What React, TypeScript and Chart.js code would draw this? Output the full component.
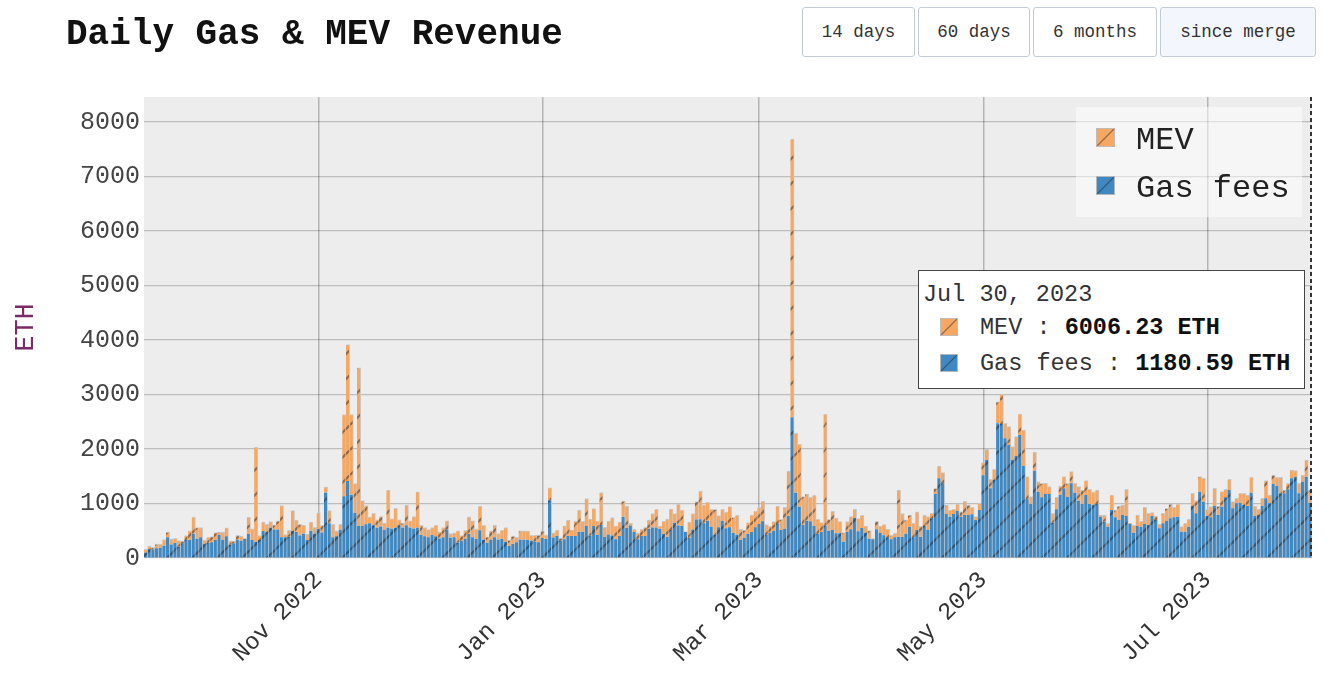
import React, { useEffect, useRef } from 'react';
import { Chart, registerables } from 'chart.js';

Chart.register(...registerables);

// ---------------- data ----------------
const START_DATE = '2022-09-15';

const GAS_FEES = [
  100, 165, 160, 180, 190, 230, 380, 250, 280, 210,
  270, 330, 335, 450, 355, 380, 255, 280, 290, 340,
  420, 330, 400, 245, 270, 340, 315, 350, 440, 330,
  300, 330, 495, 475, 560, 525, 525, 380, 380, 390,
  500, 475, 415, 450, 330, 500, 450, 535, 470, 1200,
  640, 380, 400, 520, 1135, 1415, 1160, 830, 585, 590,
  620, 640, 600, 560, 580, 520, 560, 540, 560, 600,
  560, 600, 560, 540, 560, 420, 400, 380, 420, 400,
  360, 380, 525, 370, 380, 280, 320, 355, 440, 380,
  355, 510, 340, 280, 340, 380, 340, 355, 300, 220,
  260, 290, 340, 340, 330, 320, 300, 290, 366, 354,
  1061, 378, 403, 311, 342, 403, 403, 403, 482, 482,
  586, 415, 586, 421, 604, 384, 433, 415, 342, 403,
  756, 549, 598, 476, 342, 403, 403, 537, 561, 561,
  537, 439, 390, 512, 647, 598, 586, 476, 366, 525,
  708, 710, 636, 685, 575, 422, 563, 685, 544, 563,
  459, 428, 330, 367, 440, 477, 563, 624, 673, 422,
  465, 502, 636, 514, 538, 771, 2581, 1199, 942, 612,
  685, 673, 587, 440, 477, 599, 502, 514, 453, 453,
  300, 477, 526, 734, 490, 550, 465, 355, 343, 526,
  465, 416, 379, 343, 379, 390, 390, 450, 573, 380,
  512, 390, 585, 520, 728, 1174, 1462, 1370, 807, 758,
  807, 868, 758, 789, 789, 801, 697, 880, 1517, 1798,
  1278, 1431, 2471, 2459, 2196, 2073, 1798, 1872, 2257, 1688,
  1076, 991, 1602, 1217, 1113, 1174, 1174, 648, 893, 1156,
  1278, 1125, 1370, 1199, 1052, 991, 1156, 991, 979, 991,
  758, 667, 575, 880, 746, 697, 789, 770, 624, 465,
  587, 575, 624, 606, 770, 697, 544, 636, 685, 728,
  746, 758, 483, 483, 575, 954, 820, 1217, 1034, 770,
  746, 954, 789, 942, 1113, 1248, 911, 1003, 1015, 972,
  954, 1199, 770, 789, 954, 1095, 1003, 1358, 1321, 1187,
  1187, 1260, 1462, 1492, 1187, 1401, 1492, 1015,
];

const MEV = [
  60, 55, 35, 75, 65, 110, 95, 100, 80, 110,
  40, 80, 165, 300, 205, 180, 75, 100, 105, 125,
  55, 145, 155, 70, 40, 75, 85, 5, 305, 205,
  1735, 80, 165, 145, 110, 85, 155, 580, 50, 120,
  370, 220, 205, 150, 110, 160, 115, 295, 130, 100,
  230, 240, 100, 100, 1495, 2500, 1470, 535, 2905, 465,
  340, 110, 220, 140, 180, 120, 685, 180, 350, 100,
  80, 370, 120, 220, 655, 180, 160, 140, 140, 200,
  120, 180, 155, 80, 80, 220, 90, 155, 315, 300,
  175, 440, 260, 110, 160, 225, 110, 155, 260, 110,
  140, 90, 160, 160, 165, 95, 115, 130, 134, 67,
  226, 86, 109, 55, 250, 292, 109, 274, 396, 189,
  506, 299, 323, 256, 598, 177, 244, 329, 244, 256,
  287, 403, 36, 49, 122, 122, 158, 158, 256, 330,
  49, 232, 324, 385, 170, 390, 292, 6, 293, 292,
  327, 520, 336, 336, 318, 471, 214, 208, 300, 379,
  287, 355, 196, 147, 208, 312, 299, 306, 367, 190,
  122, 165, 318, 195, 392, 825, 5107, 1088, 1144, 513,
  489, 440, 563, 269, 171, 2037, 207, 342, 281, 214,
  165, 190, 232, 159, 232, 233, 122, 147, 12, 147,
  122, 196, 147, 73, 74, 855, 427, 250, 214, 254,
  336, 190, 202, 240, 92, 104, 226, 196, 165, 122,
  86, 122, 92, 251, 183, 129, 61, 123, 232, 196,
  165, 196, 397, 550, 275, 337, 245, 354, 385, 661,
  416, 134, 343, 184, 257, 196, 135, 172, 220, 165,
  214, 245, 214, 171, 257, 257, 263, 269, 232, 257,
  31, 122, 61, 276, 134, 257, 183, 490, 12, 135,
  202, 98, 306, 214, 62, 73, 80, 184, 226, 262,
  184, 232, 92, 153, 134, 233, 232, 275, 428, 123,
  196, 324, 165, 275, 147, 195, 123, 92, 172, 215,
  202, 281, 184, 104, 141, 324, 153, 165, 159, 293,
  61, 110, 153, 110, 183, 122, 306, 233,
];

const X_TICK_DATES = ['2022-11-01', '2023-01-01', '2023-03-01', '2023-05-01', '2023-07-01'];
const X_TICK_LABELS = ['Nov 2022', 'Jan 2023', 'Mar 2023', 'May 2023', 'Jul 2023'];
const Y_TICKS = [0, 1000, 2000, 3000, 4000, 5000, 6000, 7000, 8000];
const Y_MAX = 8460;
const SERIES_NAMES = ['MEV', 'Gas fees'];
const RANGE_BUTTONS = ['14 days', '60 days', '6 months', 'since merge'];
const HOVER_DATE = 'Jul 30, 2023';
const HOVER_VALUES = ['6006.23', '1180.59'];
const UNIT = 'ETH';
const TITLE = 'Daily Gas & MEV Revenue';

// ---------------- styles ----------------
const FONT = "'Liberation Mono', 'Courier New', monospace";
const BLUE = '#4088c1';
const ORANGE = '#f6a762';
const HATCH = 'rgba(30,30,30,0.45)';
const BAR_BORDER = 'rgba(200,200,200,0.95)';
const COLORS = [ORANGE, BLUE];

function makeDates(start: string, n: number): string[] {
  const out: string[] = [];
  const d = new Date(start + 'T00:00:00Z');
  for (let i = 0; i < n; i++) {
    out.push(d.toISOString().slice(0, 10));
    d.setUTCDate(d.getUTCDate() + 1);
  }
  return out;
}

function hatchPattern(ctx: CanvasRenderingContext2D, color: string, size = 25) {
  const tile = document.createElement('canvas');
  tile.width = size;
  tile.height = size;
  const g = tile.getContext('2d')!;
  g.fillStyle = color;
  g.fillRect(0, 0, size, size);
  g.strokeStyle = HATCH;
  g.lineWidth = 2.2;
  g.beginPath();
  for (const k of [-1, 0, 1]) {
    g.moveTo(k * size, size);
    g.lineTo(k * size + size, 0);
  }
  g.stroke();
  return ctx.createPattern(tile, 'repeat')!;
}

const bgPlugin = {
  id: 'plotBg',
  beforeDraw(chart: any) {
    const { ctx, chartArea } = chart;
    ctx.save();
    ctx.fillStyle = '#ededed';
    ctx.fillRect(chartArea.left, chartArea.top, chartArea.right - chartArea.left, chartArea.bottom - chartArea.top);
    ctx.restore();
  },
};

const spikePlugin = {
  id: 'spike',
  afterDraw(chart: any) {
    const { ctx, chartArea } = chart;
    ctx.save();
    ctx.strokeStyle = '#333';
    ctx.lineWidth = 2;
    ctx.setLineDash([4, 3]);
    ctx.beginPath();
    ctx.moveTo(chartArea.right - 1, chartArea.top);
    ctx.lineTo(chartArea.right - 1, chartArea.bottom);
    ctx.stroke();
    ctx.restore();
  },
};

function swatchStyle(color: string, size: number): React.CSSProperties {
  return {
    position: 'absolute',
    width: size,
    height: size,
    boxSizing: 'border-box',
    border: '1px solid rgba(190,190,190,0.9)',
    background: `linear-gradient(to bottom right, transparent calc(50% - 1.2px), ${HATCH} 50%, transparent calc(50% + 1.2px)), ${color}`,
  };
}

export default function App() {
  const ref = useRef<HTMLCanvasElement>(null);

  useEffect(() => {
    const canvas = ref.current!;
    const ctx = canvas.getContext('2d')!;
    const labels = makeDates(START_DATE, GAS_FEES.length);

    const chart = new Chart(ctx, {
      type: 'bar',
      data: {
        labels,
        datasets: [
          {
            label: SERIES_NAMES[1],
            data: GAS_FEES,
            backgroundColor: hatchPattern(ctx, BLUE),
            borderColor: BAR_BORDER,
            borderWidth: { top: 0, right: 1, bottom: 0, left: 0 },
            borderSkipped: false,
            barPercentage: 1,
            categoryPercentage: 1,
          },
          {
            label: SERIES_NAMES[0],
            data: MEV,
            backgroundColor: hatchPattern(ctx, ORANGE),
            borderColor: BAR_BORDER,
            borderWidth: { top: 1, right: 1, bottom: 0, left: 0 },
            borderSkipped: false,
            barPercentage: 1,
            categoryPercentage: 1,
          },
        ],
      } as any,
      options: {
        responsive: false,
        animation: false,
        devicePixelRatio: 1,
        layout: { padding: { left: 0, top: 97, right: 29, bottom: 0 } },
        plugins: { legend: { display: false }, tooltip: { enabled: false } },
        scales: {
          x: {
            stacked: true,
            offset: true,
            border: { display: false },
            grid: { offset: false, color: 'rgba(0,0,0,0.24)', lineWidth: 1.5, drawTicks: false },
            afterBuildTicks: (s: any) => {
              s.ticks = s.ticks.filter((t: any) => X_TICK_DATES.includes(labels[t.value]));
            },
            afterFit: (s: any) => {
              s.height = 134;
            },
            ticks: {
              autoSkip: false,
              minRotation: 45,
              maxRotation: 45,
              padding: 8,
              color: '#333',
              font: { family: FONT, size: 24 },
              callback: (v: any) => X_TICK_LABELS[X_TICK_DATES.indexOf(labels[v as number])] ?? '',
            },
          },
          y: {
            stacked: true,
            min: 0,
            max: Y_MAX,
            border: { display: false },
            grid: { color: 'rgba(0,0,0,0.2)', lineWidth: 1.2, drawTicks: false },
            afterBuildTicks: (s: any) => {
              s.ticks = Y_TICKS.map((v) => ({ value: v }));
            },
            afterFit: (s: any) => {
              s.width = 144;
            },
            ticks: {
              padding: 4,
              color: '#444',
              font: { family: FONT, size: 25 },
              callback: (v: any) => String(v),
            },
            title: {
              display: true,
              text: UNIT,
              color: '#7a2a66',
              font: { family: FONT, size: 27 },
              padding: { top: 10, bottom: 0 },
            },
          },
        },
      } as any,
      plugins: [bgPlugin, spikePlugin],
    });
    return () => chart.destroy();
  }, []);

  const btnLefts = [802, 918, 1033, 1160];
  const btnWidths = [113, 112, 124, 156];

  return (
    <div style={{ position: 'fixed', left: 0, top: 0, width: 1341, height: 692, background: '#fff', fontFamily: FONT, overflow: 'hidden' }}>
      <canvas ref={ref} width={1341} height={692} style={{ position: 'absolute', left: 0, top: 0, width: 1341, height: 692 }} />
      <div style={{ position: 'absolute', left: 66, top: 17, fontSize: 36, lineHeight: '36px', fontWeight: 'bold', color: '#111', whiteSpace: 'pre' }}>
        {TITLE}
      </div>
      {RANGE_BUTTONS.map((b, i) => (
        <div
          key={b}
          style={{
            position: 'absolute',
            left: btnLefts[i],
            top: 7,
            width: btnWidths[i],
            height: 50,
            boxSizing: 'border-box',
            border: '1px solid #c3cbd8',
            borderRadius: 3,
            background: i === 3 ? '#f3f7fd' : '#fff',
            display: 'flex',
            alignItems: 'center',
            justifyContent: 'center',
            fontSize: 17.5,
            color: '#333',
            whiteSpace: 'pre',
          }}
        >
          {b}
        </div>
      ))}
      {/* legend */}
      <div style={{ position: 'absolute', left: 1076, top: 107, width: 226, height: 110, background: 'rgba(255,255,255,0.5)' }}>
        {SERIES_NAMES.map((n, i) => (
          <React.Fragment key={n}>
            <div style={{ ...swatchStyle(COLORS[i], 19), left: 20, top: 21 + i * 48 }} />
            <div style={{ position: 'absolute', left: 60, top: 14 + i * 48, fontSize: 32, lineHeight: '40px', color: '#222', whiteSpace: 'pre' }}>{n}</div>
          </React.Fragment>
        ))}
      </div>
      {/* hover label */}
      <div style={{ position: 'absolute', left: 918, top: 270, width: 387, height: 119, boxSizing: 'border-box', border: '1px solid #444', background: '#fff' }}>
        <div style={{ position: 'absolute', left: 4, top: 10, fontSize: 23.5, lineHeight: '28px', color: '#333', whiteSpace: 'pre' }}>{HOVER_DATE}</div>
        {SERIES_NAMES.map((n, i) => (
          <React.Fragment key={n}>
            <div style={{ ...swatchStyle(COLORS[i], 18), left: 21, top: 47 + i * 36 }} />
            <div style={{ position: 'absolute', left: 61, top: 43 + i * 36, fontSize: 23.5, lineHeight: '28px', color: '#333', whiteSpace: 'pre' }}>
              {n + ' : '}
              <b style={{ color: '#111' }}>{HOVER_VALUES[i] + ' ' + UNIT}</b>
            </div>
          </React.Fragment>
        ))}
      </div>
    </div>
  );
}
